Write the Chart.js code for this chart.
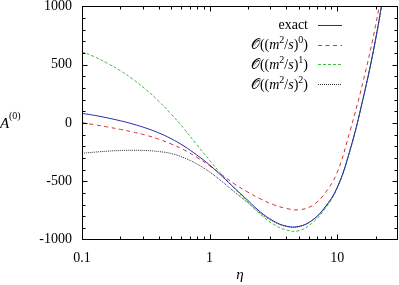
<!DOCTYPE html>
<html>
<head>
<meta charset="utf-8">
<script src="https://cdn.jsdelivr.net/npm/chart.js@4.4.1/dist/chart.umd.min.js"></script>
<style>
  body { margin: 0; background: #fff; }
  canvas { display: block; }
</style>
</head>
<body>
<canvas id="plot" width="399" height="285"></canvas>
<script>
// values (eta steps of 0.1 decade)
const eta    = [0.1, 0.126, 0.158, 0.2, 0.251, 0.316, 0.398, 0.5, 0.63, 0.79, 1, 1.26, 1.58, 2, 2.51, 3.16, 3.98, 5.01, 6.31, 7.94, 10, 12.6, 15.85, 19.95, 25.1];
const exact  = [83, 65, 44, 19, -9, -43, -84, -135, -198, -273, -360, -460, -562, -665, -765, -840, -885, -888, -838, -730, -555, -235, 195, 710, 1350];
const order0 = [3, -15, -34, -55, -78, -104, -138, -180, -230, -293, -367, -448, -525, -594, -652, -700, -733, -745, -712, -610, -425, -70, 340, 830, 1430];
const order1 = [612, 567, 513, 449, 375, 288, 189, 77, -48, -183, -320, -448, -565, -680, -785, -868, -918, -925, -862, -745, -562, -240, 190, 705, 1345];
const order2 = [-260, -250, -242, -236, -234, -236, -245, -262, -298, -350, -420, -505, -595, -685, -775, -845, -887, -890, -840, -732, -557, -237, 193, 708, 1348];

const seriesNames = ['exact', '𝒪((m²/s)⁰)', '𝒪((m²/s)¹)', '𝒪((m²/s)²)'];
const xTicks = [0.1, 1, 10];
const xMinor = [0.2, 0.3, 0.4, 0.5, 0.6, 0.7, 0.8, 0.9, 2, 3, 4, 5, 6, 7, 8, 9, 20];
const yTicks = [-1000, -500, 0, 500, 1000];

const serif = "'Liberation Serif', 'DejaVu Serif', serif";

function points(vals) {
  return eta.map((x, i) => ({ x: x, y: vals[i] }));
}

// text with italic m, s and raised digits, drawn right-aligned at xRight
const supMap = { '⁰': '0', '¹': '1', '²': '2' };
function richText(ctx, str, xRight, y, size) {
  const math = str.indexOf('𝒪') >= 0;
  const parts = Array.from(str).map(ch => {
    if (supMap[ch]) return { t: supMap[ch], font: Math.round(size * 0.7) + 'px ' + serif, dy: -size * 0.4 };
    if (ch === '𝒪') return { t: ch, font: size + "px 'DejaVu Sans', " + serif, dy: 0 };
    if (math && (ch === 'm' || ch === 's')) return { t: ch, font: 'italic ' + size + 'px ' + serif, dy: 0 };
    return { t: ch, font: size + 'px ' + serif, dy: 0 };
  });
  let w = 0;
  parts.forEach(p => { ctx.font = p.font; p.w = ctx.measureText(p.t).width; w += p.w; });
  let x = xRight - w;
  ctx.textAlign = 'left';
  ctx.textBaseline = 'alphabetic';
  parts.forEach(p => { ctx.font = p.font; ctx.fillText(p.t, x, y + p.dy); x += p.w; });
}

const decor = {
  id: 'decor',
  afterDraw(chart) {
    const ctx = chart.ctx, a = chart.chartArea;
    const xs = chart.scales.x, ys = chart.scales.y;
    const L = Math.floor(a.left) + 0.5, R = Math.floor(a.right - 1) + 0.5;
    const T = Math.floor(a.top) + 0.5, B = Math.floor(a.bottom) + 0.5;
    ctx.save();
    ctx.strokeStyle = '#000';
    ctx.lineWidth = 1;
    ctx.setLineDash([]);
    ctx.strokeRect(L, T, R - L, B - T);

    ctx.beginPath();
    function xt(v, len) {
      const p = Math.round(xs.getPixelForValue(v)) + 0.5;
      ctx.moveTo(p, B); ctx.lineTo(p, B - len);
      ctx.moveTo(p, T); ctx.lineTo(p, T + len);
    }
    function yt(v, len) {
      const p = Math.round(ys.getPixelForValue(v)) + 0.5;
      ctx.moveTo(L, p); ctx.lineTo(L + len, p);
      ctx.moveTo(R, p); ctx.lineTo(R - len, p);
    }
    xTicks.forEach(v => xt(v, 5));
    xMinor.forEach(v => xt(v, 3));
    for (let v = -900; v < 1000; v += 100) yt(v, yTicks.indexOf(v) >= 0 ? 5 : 3);
    ctx.stroke();

    // axis titles
    ctx.fillStyle = '#000';
    ctx.font = 'italic 15px ' + serif;
    ctx.textAlign = 'center';
    ctx.textBaseline = 'alphabetic';
    ctx.fillText('η', (a.left + a.right) / 2, 279);
    ctx.textAlign = 'left';
    ctx.fillText('A', 0, 128);
    ctx.font = '10px ' + serif;
    ctx.fillText('(0)', 9, 119);

    // legend
    chart.data.datasets.forEach((ds, i) => {
      const y = 24.7 + i * 19.8;
      ctx.fillStyle = '#000';
      richText(ctx, ds.label, 308, y + 4.5, 14);
      ctx.strokeStyle = ds.borderColor;
      ctx.lineWidth = ds.borderWidth;
      ctx.setLineDash(ds.borderDash || []);
      ctx.beginPath();
      ctx.moveTo(318, Math.round(y) + 0.5);
      ctx.lineTo(342, Math.round(y) + 0.5);
      ctx.stroke();
    });
    ctx.restore();
  }
};

const colors = ['#2a2aaa', '#d03434', '#3cbf3c', '#303030'];
const dashes = [[], [4, 3.5], [3, 2], [1, 1]];
const values = [exact, order0, order1, order2];

new Chart(document.getElementById('plot'), {
  type: 'line',
  data: {
    datasets: values.map((v, i) => ({
      label: seriesNames[i],
      data: points(v),
      borderColor: colors[i],
      borderWidth: 1,
      borderDash: dashes[i],
      pointRadius: 0,
      tension: 0.4,
      fill: false
    }))
  },
  options: {
    responsive: false,
    animation: false,
    devicePixelRatio: 1,
    layout: { padding: { top: 6.5, right: 1, left: 0, bottom: 0 } },
    plugins: { legend: { display: false }, tooltip: { enabled: false } },
    scales: {
      x: {
        type: 'logarithmic',
        min: 0.1,
        max: 30,
        afterBuildTicks: s => { s.ticks = xTicks.map(v => ({ value: v })); },
        afterFit: s => { s.height = 45.5; s.paddingLeft = 0; s.paddingRight = 0; },
        grid: { display: false, drawTicks: false },
        border: { display: false },
        ticks: {
          autoSkip: false,
          maxRotation: 0,
          padding: 10,
          color: '#000',
          font: { family: serif, size: 14 },
          callback: v => String(v)
        }
      },
      y: {
        min: -1000,
        max: 1000,
        afterBuildTicks: s => { s.ticks = yTicks.map(v => ({ value: v })); },
        afterFit: s => { s.width = 82; s.paddingTop = 0; s.paddingBottom = 0; },
        grid: { display: false, drawTicks: false },
        border: { display: false },
        ticks: {
          padding: 10,
          color: '#000',
          font: { family: serif, size: 14 },
          callback: v => String(v)
        }
      }
    }
  },
  plugins: [decor]
});
</script>
</body>
</html>
